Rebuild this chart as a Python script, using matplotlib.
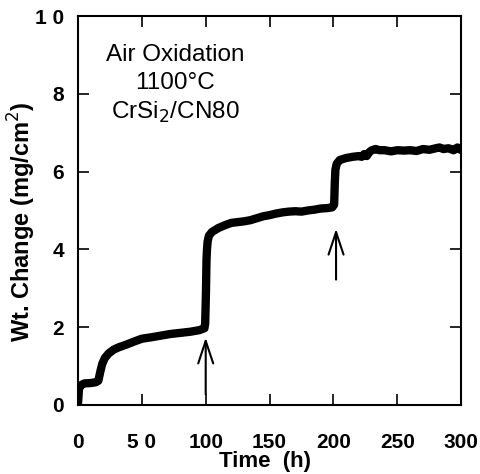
import matplotlib.pyplot as plt
import numpy as np

plt.rcParams['font.family'] = ['Liberation Sans', 'DejaVu Sans']

# weight-gain trace
time_h = [0, 0.3, 0.8, 2, 5, 10, 14, 16, 17.5, 19, 21, 24, 28, 32, 38, 45, 50, 58,
          65, 72, 80, 88, 95, 99, 99.6, 100.2, 100.6, 101, 101.5, 102.5, 105, 110,
          115, 120, 125, 130, 135, 140, 145, 150, 155, 160, 165, 170, 175, 180,
          185, 190, 195, 199, 200.5, 201, 201.5, 202.5, 205, 210, 215, 220, 222,
          224, 226, 228, 230, 233, 236, 240, 245, 250, 255, 260, 265, 270, 275,
          280, 283, 286, 290, 294, 297, 300]
wt_change = [0, 0.15, 0.4, 0.5, 0.55, 0.56, 0.58, 0.62, 0.85, 1.05, 1.2, 1.32, 1.42, 1.48,
             1.55, 1.64, 1.7, 1.74, 1.78, 1.82, 1.85, 1.88, 1.92, 1.97, 2.1, 2.9, 3.7,
             4.0, 4.2, 4.35, 4.45, 4.55, 4.62, 4.68, 4.7, 4.72, 4.75, 4.8, 4.85, 4.88,
             4.92, 4.95, 4.97, 4.98, 4.97, 5.0, 5.02, 5.05, 5.06, 5.08, 5.15, 5.7,
             6.05, 6.2, 6.3, 6.35, 6.38, 6.4, 6.38, 6.45, 6.4, 6.5, 6.55, 6.58, 6.55,
             6.55, 6.52, 6.55, 6.54, 6.55, 6.53, 6.58, 6.56, 6.6, 6.62, 6.58, 6.6,
             6.55, 6.62, 6.55]

arrow_x = [100, 202]
arrow_tail = [0.2, 3.15]
arrow_head = [1.8, 4.6]

fig = plt.figure(figsize=(4.81, 4.74), dpi=100)
ax = fig.add_axes([0.162, 0.146, 0.797, 0.820])

ax.plot(time_h, wt_change, color='black', linewidth=6, solid_capstyle='round',
        solid_joinstyle='round')

for x, y0, y1 in zip(arrow_x, arrow_tail, arrow_head):
    ax.annotate('', xy=(x, y1), xytext=(x, y0),
                arrowprops=dict(arrowstyle='->,head_width=0.3,head_length=0.9',
                                color='black', lw=1.5, mutation_scale=18))

ax.text(76, 9.0, 'Air Oxidation', ha='center', va='center', fontsize=17.5)
ax.text(76, 8.28, '1100°C', ha='center', va='center', fontsize=17.5)
ax.text(76, 7.53, 'CrSi$_2$/CN80', ha='center', va='center', fontsize=17.5)

ax.set_xlim(0, 300)
ax.set_ylim(0, 10)
ax.set_xticks(range(0, 301, 50))
ax.set_yticks(range(0, 11, 2))
ax.set_xticklabels(['0', '5 0', '100', '150', '200', '250', '300'])
ax.set_yticklabels(['0', '2', '4', '6', '8', '1 0'])
ax.tick_params(direction='in', top=True, right=True, length=8, width=1.2,
               labelsize=15)
ax.tick_params(axis='x', pad=20)
ax.tick_params(axis='y', pad=10)
for lab in ax.get_xticklabels() + ax.get_yticklabels():
    lab.set_fontweight('bold')
for sp in ax.spines.values():
    sp.set_linewidth(1.5)

fig.text(265 / 481, 1 - 462 / 474, 'Time  (h)', fontsize=16, fontweight='bold',
         ha='center', va='center')
fig.text(22 / 481, 1 - 222 / 474, 'Wt. Change (mg/cm$^2$)', fontsize=17,
         fontweight='bold', ha='center', va='center', rotation=90)

plt.savefig('out.png', dpi=100)
